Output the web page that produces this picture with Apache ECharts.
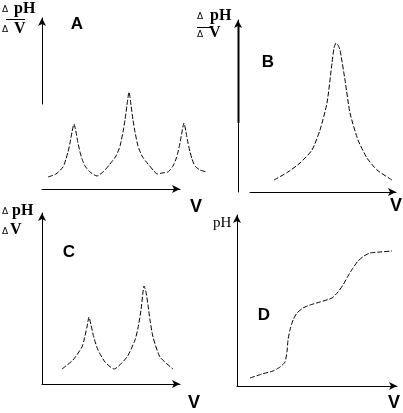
<!DOCTYPE html>
<html>
<head>
<meta charset="utf-8">
<script src="https://cdn.jsdelivr.net/npm/echarts@6/dist/echarts.min.js"></script>
<style>
html,body{margin:0;padding:0;background:#fff;}
#chart{width:403px;height:413px;}
</style>
</head>
<body>
<div id="chart"></div>
<script>
// Panel A: three peaks of ΔpH/ΔV
const aX = [6,14,21,24,26,28,30,32,34,36,38,40,43,48,55,62,68,74,78,81,83,85,87,89,91,93,96,100,106,112,115,120,126,131,134,136,138,140,142,144,146,148,150,153,158,165];
const aY = [12,15,22,30,37,46,57,65,57,46,37,30,23,17,13,18,25,33,43,57,69,84,97,84,69,57,43,33,25,18,15,16,17,23,30,37,46,57,66,57,46,37,30,23,19,17];
// Panel B: single peak
const bX = [24,38,50,62,70,77,82,84,86,88,90,95,100,108,117,127,142];
const bY = [12,20,29,42,62,89,129,144,149,147,142,112,79,52,34,22,12];
// Panel C: two peaks
const cX = [20,31,40,42,45,47,49,52,56,63,72,85,93,96,99,101,102,104,106,108,111,118,131];
const cY = [15,24,37,44,57,67,59,46,34,22,15,27,44,56,74,92,98,92,79,64,47,27,15];
// Panel D: pH titration curve
const dX = [13,25,36,43,48,50,51,53,56,60,66,73,83,95,101,106,111,116,121,127,133,143,155];
const dY = [8,12,15,19,24,34,46,56,66,73,78,81,84,88,94,101,110,118,125,130,133,134,135];
// Labels
const panelLetters = ['A','B','C','D'];
const axisVLabel = 'V';

const pair = (xs, ys) => xs.map((x, i) => [x, ys[i]]);

const black = '#000';
const arrowLine = (show) => ({
  show: show,
  symbol: ['none', 'arrow'],
  symbolSize: [6, 8],
  lineStyle: {color: black, width: 1}
});
const hidden = {show: false};
function xAx(grid, max, show) {
  return {type: 'value', gridIndex: grid, min: 0, max: max,
    axisLine: arrowLine(show), axisTick: hidden, axisLabel: hidden, splitLine: hidden};
}
function yAx(grid, max, show) {
  return {type: 'value', gridIndex: grid, min: 0, max: max,
    axisLine: arrowLine(show), axisTick: hidden, axisLabel: hidden, splitLine: hidden};
}
const dashed = {color: black, width: 1, type: [5, 2]};
function curve(grid, xs, ys) {
  return {type: 'line', xAxisIndex: grid, yAxisIndex: grid, data: pair(xs, ys),
    showSymbol: false, smooth: 0.2, clip: false, lineStyle: dashed, silent: true,
    animation: false};
}

const serifB = 'bold 16px "Liberation Serif", serif';
const sansB = 'bold 17px "Liberation Sans", Arial, sans-serif';
function txt(t, x, y, font, align) {
  return {type: 'text', silent: true,
    style: {text: t, x: x, y: y, font: font, fill: black, align: align || 'left', verticalAlign: 'middle'}};
}
function ln(x1, y1, x2, y2, w) {
  return {type: 'line', silent: true, shape: {x1, y1, x2, y2}, style: {stroke: black, lineWidth: w || 1}};
}
const tri = '9px "DejaVu Sans", sans-serif';

const chart = echarts.init(document.getElementById('chart'));
chart.setOption({
  animation: false,
  backgroundColor: '#fff',
  grid: [
    {left: 42, top: 18, width: 166, height: 171},   // 0: A curve
    {left: 42, top: 18, width: 138, height: 171},   // 1: A x-axis
    {left: 42, top: 18, width: 138, height: 86},    // 2: A y-axis
    {left: 250, top: 20, width: 146, height: 172},  // 3: B curve + x-axis
    {left: 238, top: 20, width: 10, height: 172},   // 4: B y-axis
    {left: 42, top: 213, width: 138, height: 171},  // 5: C
    {left: 237, top: 215, width: 160, height: 171}  // 6: D
  ],
  xAxis: [xAx(0,166,false), xAx(1,138,true), xAx(2,138,false), xAx(3,146,true), xAx(4,10,false), xAx(5,138,true), xAx(6,160,true)],
  yAxis: [yAx(0,171,false), yAx(1,171,false), yAx(2,86,true), yAx(3,172,false), yAx(4,172,true), yAx(5,171,true), yAx(6,171,true)],
  series: [
    curve(0, aX, aY),
    curve(3, bX, bY),
    curve(5, cX, cY),
    curve(6, dX, dY)
  ],
  graphic: [
    // A
    txt('Δ', 5, 10, tri, 'center'), txt('pH', 14, 9, serifB),
    ln(6, 19.5, 25, 19.5),
    txt('Δ', 5, 30, tri, 'center'), txt('V', 14, 29, serifB),
    txt(panelLetters[0], 77, 24, sansB, 'center'),
    txt(axisVLabel, 196, 207, 'bold 18px "Liberation Sans", Arial, sans-serif', 'center'),
    // B
    txt('Δ', 200, 17, tri, 'center'), txt('pH', 210, 16, serifB),
    ln(197, 27.5, 212, 27.5),
    txt('Δ', 200, 35, tri, 'center'), txt('V', 209, 33, serifB),
    txt(panelLetters[1], 268, 62, sansB, 'center'),
    txt(axisVLabel, 396, 206, 'bold 18px "Liberation Sans", Arial, sans-serif', 'center'),
    ln(238.5, 24, 238.5, 123, 2),
    // C
    txt('Δ', 5, 212, tri, 'center'), txt('pH', 12, 211, serifB),
    txt('Δ', 5, 232, tri, 'center'), txt('V', 10, 230, serifB),
    txt(panelLetters[2], 69, 252, sansB, 'center'),
    txt(axisVLabel, 194, 403, 'bold 18px "Liberation Sans", Arial, sans-serif', 'center'),
    // D
    txt('pH', 213, 223, '15px "Liberation Serif", serif'),
    txt(panelLetters[3], 264, 315, sansB, 'center'),
    txt(axisVLabel, 394, 403, 'bold 18px "Liberation Sans", Arial, sans-serif', 'center')
  ]
});
</script>
</body>
</html>
